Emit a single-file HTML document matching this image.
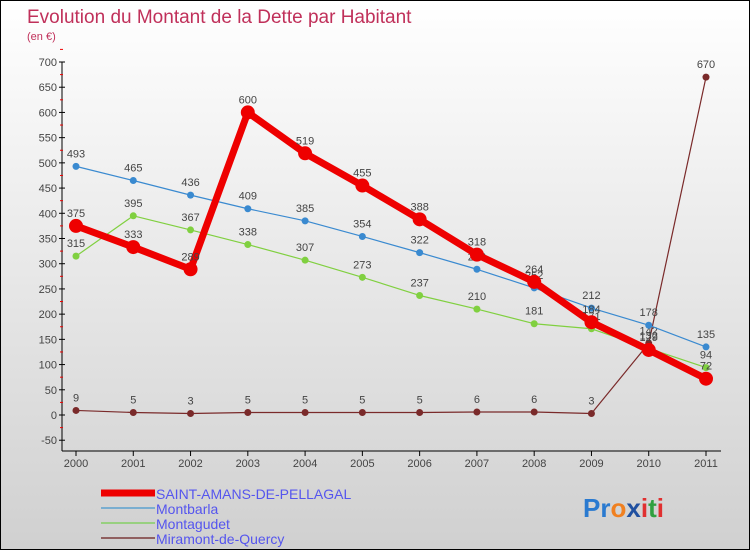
<!DOCTYPE html>
<html><head><meta charset="utf-8"><style>
html,body{margin:0;padding:0}
body{width:750px;height:550px;overflow:hidden;font-family:"Liberation Sans",sans-serif}
#c{position:absolute;left:0;top:0;width:748px;height:548px;border:1px solid #000;background:linear-gradient(#ffffff,#d0d0d0)}
</style></head><body>
<div id="c">
<svg id="s" width="748" height="548" xmlns="http://www.w3.org/2000/svg">
<text x="26" y="22" font-size="19" fill="#c0305a">Evolution du Montant de la Dette par Habitant</text>
<text x="26" y="39" font-size="11" fill="#c0305a">(en €)</text>
<g id="axes"></g><g id="series"></g>
<g>
<line x1="100" y1="492" x2="154" y2="492" stroke="#ee0000" stroke-width="7"/>
<text x="155" y="498" font-size="14" fill="#5555ee">SAINT-AMANS-DE-PELLAGAL</text>
<line x1="100" y1="507" x2="154" y2="507" stroke="#7aaed0" stroke-width="2"/>
<text x="155" y="513" font-size="14" fill="#5555ee">Montbarla</text>
<line x1="100" y1="522" x2="154" y2="522" stroke="#98d080" stroke-width="2"/>
<text x="155" y="528" font-size="14" fill="#5555ee">Montagudet</text>
<line x1="100" y1="537" x2="154" y2="537" stroke="#906060" stroke-width="2"/>
<text x="155" y="543" font-size="14" fill="#5555ee">Miramont-de-Quercy</text>
</g>
<text x="582" y="516" font-size="26" font-weight="bold"><tspan fill="#2a7ad0">Pr</tspan><tspan fill="#f08020">o</tspan><tspan fill="#2050a0">x</tspan><tspan fill="#e03030">i</tspan><tspan fill="#30a040">t</tspan><tspan fill="#e03030">i</tspan></text>
</svg></div>
<script>
const years=[2000,2001,2002,2003,2004,2005,2006,2007,2008,2009,2010,2011];
const yTicks=[-50,0,50,100,150,200,250,300,350,400,450,500,550,600,650,700];
const saintAmans=[375,333,289,600,519,455,388,318,264,184,129,72];
const montbarla=[493,465,436,409,385,354,322,289,252,212,178,135];
const montagudet=[315,395,367,338,307,273,237,210,181,171,132,94];
const miramont=[9,5,3,5,5,5,5,6,6,3,142,670];
const NS="http://www.w3.org/2000/svg";
const X=i=>75+i*(630/11);
const Y=v=>414-v*(353/700);
function mk(t,a,p){const e=document.createElementNS(NS,t);for(const k in a)e.setAttribute(k,a[k]);p.appendChild(e);return e;}
const ax=document.getElementById('axes');
let l=mk('line',{x1:61,y1:Y(700),x2:61,y2:450,stroke:'#000'},ax);


l=mk('line',{x1:61,y1:450,x2:720,y2:450,stroke:'#000'},ax);


yTicks.forEach(v=>{
 mk('line',{x1:58,y1:Y(v),x2:64,y2:Y(v),stroke:'#000'},ax);
 mk('line',{x1:59,y1:Y(v+25),x2:62,y2:Y(v+25),stroke:'#e00'},ax);
 const t=mk('text',{x:56,y:Y(v)+4,'font-size':11,fill:'#444','text-anchor':'end'},ax);t.textContent=v;
 
 
});
years.forEach((yr,i)=>{
 mk('line',{x1:X(i),y1:450,x2:X(i),y2:455,stroke:'#000'},ax);
 const t=mk('text',{x:X(i),y:466,'font-size':11,fill:'#444','text-anchor':'middle'},ax);t.textContent=yr;
 
 
});
const sg=document.getElementById('series');
function series(d,col,w,r,name){
 const g=mk('g',{},sg);
 
 
 const p=mk('polyline',{points:d.map((v,i)=>X(i)+','+Y(v)).join(' '),fill:'none',stroke:col,'stroke-width':w,'stroke-linejoin':'round'},g);
 
 
 d.forEach((v,i)=>{
  const c=mk('circle',{cx:X(i),cy:Y(v),r:r,fill:col},g);
  
  
  const t=mk('text',{x:X(i),y:Y(v)-9,'font-size':11,fill:'#444','text-anchor':'middle'},g);t.textContent=v;
  
  
 });
}
series(miramont,'#7a2a2a',1.2,3.5,'miramont');
series(montagudet,'#80d040',1.2,3.5,'montagudet');
series(montbarla,'#3a8ad0',1.2,3.5,'montbarla');
series(saintAmans,'#ee0000',7,7,'saint-amans');
</script>
</body></html>
